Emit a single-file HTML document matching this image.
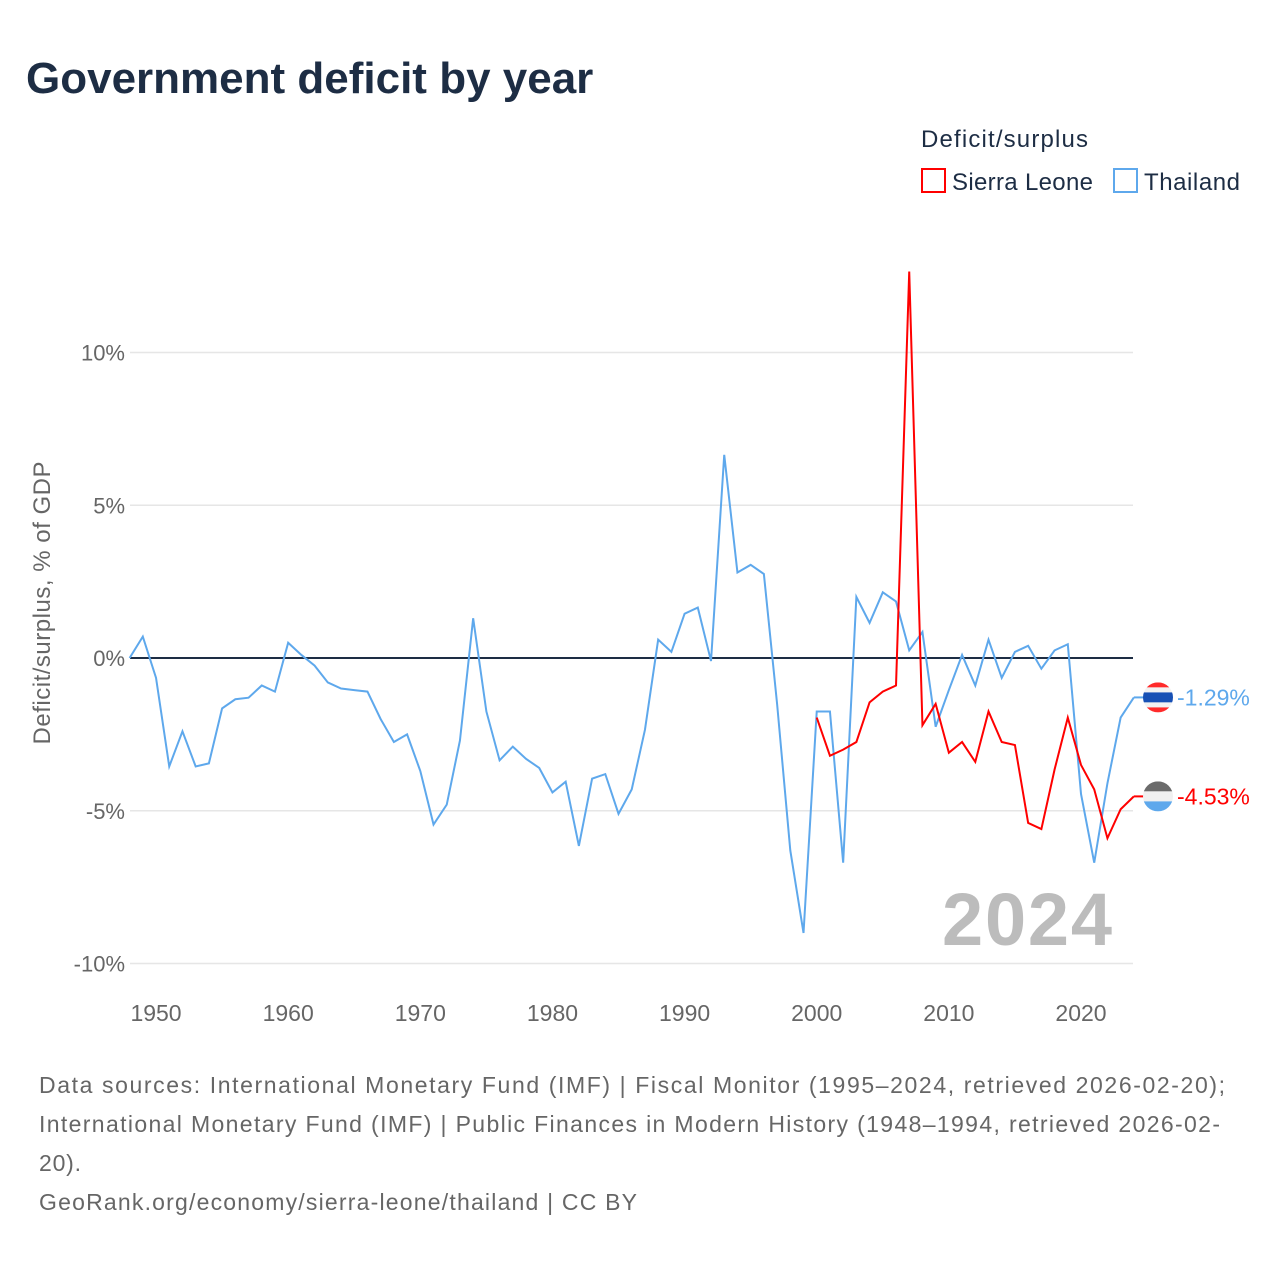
<!DOCTYPE html>
<html><head><meta charset="utf-8">
<style>
body{margin:0;background:#fff;width:1280px;height:1280px;overflow:hidden;font-family:"Liberation Sans",sans-serif;}
</style></head>
<body>
<svg id="chart" width="1280" height="1280" xmlns="http://www.w3.org/2000/svg" font-family="Liberation Sans, sans-serif">
<text x="26" y="93" font-size="44" font-weight="bold" fill="#1d2d44">Government deficit by year</text>
<text x="921" y="147" font-size="24" fill="#1d2d44" textLength="167">Deficit/surplus</text>
<g>
<rect x="922" y="169" width="23" height="23" fill="none" stroke="#ff0000" stroke-width="2"/>
<text x="952" y="190" font-size="24" fill="#1d2d44" textLength="141">Sierra Leone</text></g>
<g>
<rect x="1114" y="169" width="23" height="23" fill="none" stroke="#5ea8ec" stroke-width="2"/>
<text x="1144" y="190" font-size="24" fill="#1d2d44" textLength="96">Thailand</text></g>
<text transform="translate(50,603) rotate(-90)" text-anchor="middle" font-size="24" fill="#666" textLength="283">Deficit/surplus, % of GDP</text>
<g id="grid"></g>
<text x="1112" y="945" text-anchor="end" font-size="74" font-weight="bold" fill="#bcbcbc" textLength="170">2024</text>
<g id="series"></g>
<g id="ends"></g>
<g font-size="23" fill="#666">
<text x="39" y="1093" textLength="1186">Data sources: International Monetary Fund (IMF) | Fiscal Monitor (1995–2024, retrieved 2026-02-20);</text>
<text x="39" y="1132" textLength="1181">International Monetary Fund (IMF) | Public Finances in Modern History (1948–1994, retrieved 2026-02-</text>
<text x="39" y="1171" textLength="42">20).</text>
<text x="39" y="1210" textLength="598">GeoRank.org/economy/sierra-leone/thailand | CC BY</text>
</g>
</svg>
<script>
const yTicks=[10,5,0,-5,-10];
const xTicks=[1950,1960,1970,1980,1990,2000,2010,2020];
const thYears=[1948,1949,1950,1951,1952,1953,1954,1955,1956,1957,1958,1959,1960,1961,1962,1963,1964,1965,1966,1967,1968,1969,1970,1971,1972,1973,1974,1975,1976,1977,1978,1979,1980,1981,1982,1983,1984,1985,1986,1987,1988,1989,1990,1991,1992,1993,1994,1995,1996,1997,1998,1999,2000,2001,2002,2003,2004,2005,2006,2007,2008,2009,2010,2011,2012,2013,2014,2015,2016,2017,2018,2019,2020,2021,2022,2023,2024];
const thailand=[0,0.7,-0.65,-3.55,-2.4,-3.55,-3.45,-1.65,-1.35,-1.3,-0.9,-1.1,0.5,0.1,-0.25,-0.8,-1.0,-1.05,-1.1,-2.0,-2.75,-2.5,-3.7,-5.45,-4.8,-2.7,1.3,-1.75,-3.35,-2.9,-3.3,-3.6,-4.4,-4.05,-6.15,-3.95,-3.8,-5.1,-4.3,-2.35,0.6,0.2,1.45,1.65,-0.1,6.65,2.8,3.05,2.75,-1.5,-6.3,-9.0,-1.75,-1.75,-6.7,2.0,1.15,2.15,1.85,0.25,0.85,-2.25,-1.05,0.1,-0.9,0.6,-0.65,0.2,0.4,-0.35,0.25,0.45,-4.45,-6.7,-4.1,-1.95,-1.29];
const slYears=[2000,2001,2002,2003,2004,2005,2006,2007,2008,2009,2010,2011,2012,2013,2014,2015,2016,2017,2018,2019,2020,2021,2022,2023,2024];
const sierraLeone=[-1.95,-3.2,-3.0,-2.75,-1.45,-1.1,-0.9,12.65,-2.2,-1.5,-3.1,-2.75,-3.4,-1.75,-2.75,-2.85,-5.4,-5.6,-3.65,-1.95,-3.5,-4.3,-5.9,-4.95,-4.53];
const NS='http://www.w3.org/2000/svg';
const x=yr=>129.6+(yr-1948)*13.214;
const y=v=>658-v*30.55;
function mk(tag,attrs,parent){const e=document.createElementNS(NS,tag);for(const k in attrs)e.setAttribute(k,attrs[k]);parent.appendChild(e);return e;}
const grid=document.getElementById('grid');
yTicks.forEach(t=>{
 if(t!==0){const l=mk('line',{x1:130,x2:1133,y1:y(t),y2:y(t),stroke:'#e6e6e6','stroke-width':1.5},grid);
 
 }
 const tx=mk('text',{x:125,y:y(t)+8,'text-anchor':'end','font-size':22,fill:'#666'},grid);
 tx.textContent=t+'%';
 
 
});
xTicks.forEach(t=>{
 const tx=mk('text',{x:x(t),y:1021,'text-anchor':'middle','font-size':23,fill:'#666'},grid);
 tx.textContent=t;
 
 
});
const zl=mk('line',{x1:130,x2:1133,y1:y(0),y2:y(0),stroke:'#1d2d44','stroke-width':2},grid);


const ser=document.getElementById('series');
function line(yrs,vals,col,name){
 const p=mk('polyline',{points:yrs.map((yr,i)=>x(yr)+','+y(vals[i])).join(' '),fill:'none',stroke:col,'stroke-width':2,'stroke-linejoin':'miter'},ser);
 
 
}
line(thYears,thailand,'#5ea8ec','thailand-line');
line(slYears,sierraLeone,'#ff0000','sierra-leone-line');
const ends=document.getElementById('ends');
function flag(cx,cy,stripes,name){
 const g=mk('g',{},ends);
 
 
 const id='c'+name;
 const cp=mk('clipPath',{id:id},g);mk('circle',{cx:cx,cy:cy,r:15},cp);
 let yy=cy-15;stripes.forEach(s=>{mk('rect',{x:cx-15,y:yy,width:30,height:s[1],fill:s[0],'clip-path':'url(#'+id+')'},g);yy+=s[1];});
}
const thV=thailand[thailand.length-1], slV=sierraLeone[sierraLeone.length-1];
const tl=mk('line',{x1:x(2024),x2:1145,y1:y(thV),y2:y(thV),stroke:'#5ea8ec','stroke-width':2},ends);


const sl=mk('line',{x1:x(2024),x2:1145,y1:y(slV),y2:y(slV),stroke:'#ff0000','stroke-width':2},ends);


flag(1158,y(thV),[['#ff2a2a',5],['#f2f2f2',5],['#1750b5',10],['#f2f2f2',5],['#ff2a2a',5]],'thailand-flag');
flag(1158,y(slV),[['#6b6b6b',10],['#f0f0f0',10],['#5ea8ec',10]],'sierra-leone-flag');
const t1=mk('text',{x:1177,y:y(thV)+8,'font-size':23,fill:'#5ea8ec'},ends);
t1.textContent=thV.toFixed(2)+'%';


const t2=mk('text',{x:1177,y:y(slV)+8,'font-size':23,fill:'#ff0000'},ends);
t2.textContent=slV.toFixed(2)+'%';


</script>
</body></html>
